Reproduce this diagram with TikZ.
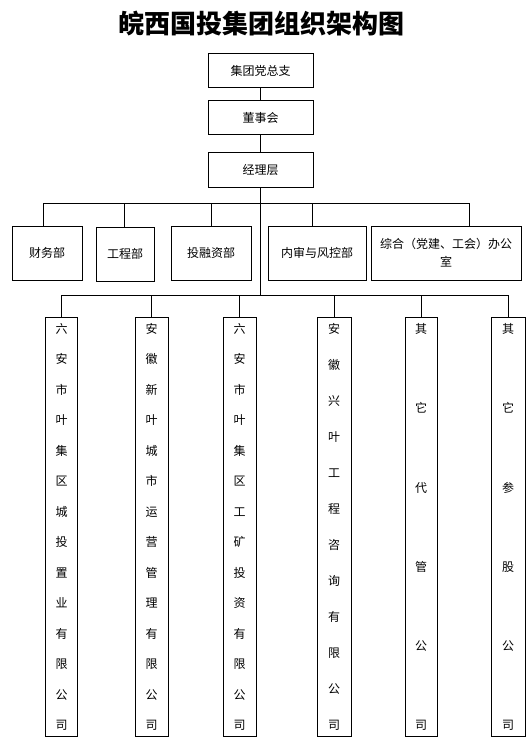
\documentclass[tikz,border=0pt]{standalone}
\usepackage{fontspec}
\newfontfamily\cjk{Noto Sans CJK SC}
\usetikzlibrary{positioning}
\tikzset{
  org text/.style={font=\cjk\fontsize{12}{18}\selectfont, text=black},
  org box/.style={draw=black, line width=1pt, inner sep=0pt, align=center, org text},
  org top/.style={org box, minimum width=105pt, minimum height=34pt},
  org dept/.style={org box, minimum height=54pt},
  org firm/.style={org box, minimum height=419pt, font=\cjk\fontsize{12}{#1}\selectfont},
  org link/.style={draw=black, line width=1pt},
  org title/.style={font=\cjk\bfseries\fontsize{26}{30}\selectfont}
}

\begin{document}
\begin{tikzpicture}[x=1pt, y=-1pt]
  \useasboundingbox (0,0) rectangle (528,738);
  \node[org title] (title) at (261.5,24) {皖西国投集团组织架构图};
  \node[org top] (party) at (260.5,71) {集团党总支};
  \node[org top] (board) at (260.5,118) {董事会};
  \node[org top] (mgr) at (260.5,170) {经理层};
  \coordinate (bus1) at (260.5,203);
  \coordinate (bus2) at (260.5,295);
  \node[org dept, minimum width=70pt] (fin) at (47,253) {财务部};
  \node[org dept, minimum width=58pt] (eng) at (125,254) {工程部};
  \node[org dept, minimum width=80pt] (inv) at (211,253) {投融资部};
  \node[org dept, minimum width=98pt] (risk) at (317,253) {内审与风控部};
  \node[org dept, minimum width=150pt] (office) at (446,253) {综合（党建、工会）办公\\室};
  \node[org firm=30.5, minimum width=32pt] (c1) at (61.5,527)
    {六\\安\\市\\叶\\集\\区\\城\\投\\置\\业\\有\\限\\公\\司};
  \node[org firm=30.5, minimum width=33pt] (c2) at (151.5,527)
    {安\\徽\\新\\叶\\城\\市\\运\\营\\管\\理\\有\\限\\公\\司};
  \node[org firm=30.5, minimum width=33pt] (c3) at (239.5,527)
    {六\\安\\市\\叶\\集\\区\\工\\矿\\投\\资\\有\\限\\公\\司};
  \node[org firm=36, minimum width=34pt] (c4) at (334,527)
    {安\\徽\\兴\\叶\\工\\程\\咨\\询\\有\\限\\公\\司};
  \node[org firm=79.2, minimum width=32pt] (c5) at (421,527)
    {其\\它\\代\\管\\公\\司};
  \node[org firm=79.2, minimum width=34pt] (c6) at (508,527)
    {其\\它\\参\\股\\公\\司};
  % trunk
  \draw[org link] (party) -- (board);
  \draw[org link] (board) -- (mgr);
  \draw[org link] (mgr) -- (bus2);
  % departments
  \draw[org link] ([xshift=-4pt]fin.north) |- (bus1);
  \draw[org link] ([xshift=-1pt]eng.north) |- (bus1);
  \draw[org link] (inv.north) |- (bus1);
  \draw[org link] ([xshift=-5pt]risk.north) |- (bus1);
  \draw[org link] ([xshift=23pt]office.north) |- (bus1);
  % companies
  \draw[org link] (c1.north) |- (bus2);
  \draw[org link] (c2.north) |- (bus2);
  \draw[org link] (c3.north) |- (bus2);
  \draw[org link] (c4.north) |- (bus2);
  \draw[org link] (c5.north) |- (bus2);
  \draw[org link] (c6.north) |- (bus2);
\end{tikzpicture}
\end{document}
